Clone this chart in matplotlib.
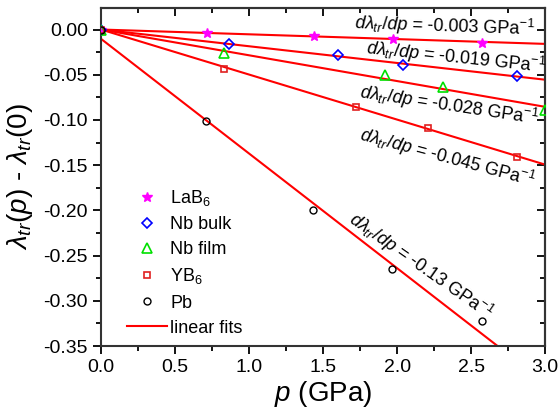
import numpy as np
import matplotlib
matplotlib.use('Agg')
import matplotlib.pyplot as plt
from matplotlib.ticker import MultipleLocator

plt.rcParams['font.family'] = ['Liberation Sans', 'DejaVu Sans']
plt.rcParams['mathtext.fontset'] = 'custom'
plt.rcParams['mathtext.rm'] = 'Liberation Sans'
plt.rcParams['mathtext.it'] = 'Liberation Sans:italic'
plt.rcParams['axes.unicode_minus'] = False

# measured points (pressure in GPa, change of lambda_tr)
p_lab6 = [0.0, 0.716, 1.44, 1.97, 2.57]
d_lab6 = [0.0, -0.0037, -0.0074, -0.011, -0.0144]

p_nbbulk = [0.0, 0.867, 1.60, 2.04, 2.81]
d_nbbulk = [0.0, -0.016, -0.0285, -0.0395, -0.0517]

p_nbfilm = [0.0, 0.833, 1.92, 2.31, 3.0]
d_nbfilm = [0.0, -0.0258, -0.0498, -0.0639, -0.0886]

p_yb6 = [0.0, 0.833, 1.72, 2.21, 2.81]
d_yb6 = [0.0, -0.0435, -0.0856, -0.1085, -0.141]

p_pb = [0.0, 0.709, 1.435, 1.964, 2.576]
d_pb = [0.0, -0.1008, -0.200, -0.2647, -0.3223]

# linear fits as drawn: slope, intercept
fit_slopes = [-0.0053, -0.0185, -0.0285, -0.0498, -0.1268]
fit_intercepts = [0.0, 0.0, 0.0, 0.0, -0.0103]

fit_labels = ['-0.003', '-0.019', '-0.028', '-0.045', '-0.13']
label_x = [2.32, 2.40, 2.35, 2.34, 2.16]
label_y = [0.0035, -0.031, -0.084, -0.142, -0.261]
label_rot = [-2, -6, -8.5, -15, -35]

fig = plt.figure(figsize=(5.58, 4.11), dpi=100)
ax = fig.add_axes([0.181, 0.158, 0.796, 0.823])

pp = np.array([0.0, 3.0])
for k, (s, b) in enumerate(zip(fit_slopes, fit_intercepts)):
    ax.plot(pp, b + s * pp, color='#ff0000', lw=1.5, zorder=2,
            label='linear fits' if k == 4 else None)

ax.plot(p_lab6, d_lab6, ls='none', marker='*', ms=7, color='#ff00ff', label='LaB$_6$', zorder=3)
ax.plot(p_nbbulk, d_nbbulk, ls='none', marker='D', ms=5.5, mfc='none', mec='#0000ff', mew=1.2,
        label='Nb bulk', zorder=3)
ax.plot(p_nbfilm, d_nbfilm, ls='none', marker='^', ms=6.5, mfc='none', mec='#00e000', mew=1.2,
        label='Nb film', zorder=3)
ax.plot(p_yb6, d_yb6, ls='none', marker='s', ms=5, mfc='none', mec='#e02020', mew=1.2,
        label='YB$_6$', zorder=3)
ax.plot(p_pb, d_pb, ls='none', marker='o', ms=5, mfc='none', mec='black', mew=1.0,
        label='Pb', zorder=3)

for t, x, y, r in zip(fit_labels, label_x, label_y, label_rot):
    ax.text(x, y, '$d\\lambda_{tr}/dp$ = ' + t + ' GPa$^{-1}$', fontsize=13,
            rotation=r, rotation_mode='anchor', ha='center', va='center')

ax.set_xlim(0, 3.0)
ax.set_ylim(-0.35, 0.024)
ax.xaxis.set_major_locator(MultipleLocator(0.5))
ax.xaxis.set_minor_locator(MultipleLocator(0.25))
ax.yaxis.set_major_locator(MultipleLocator(0.05))
ax.yaxis.set_minor_locator(MultipleLocator(0.025))
ax.xaxis.set_major_formatter(matplotlib.ticker.FormatStrFormatter('%.1f'))
ax.yaxis.set_major_formatter(matplotlib.ticker.FormatStrFormatter('%.2f'))
ax.tick_params(which='major', direction='out', length=6, width=1.3, labelsize=14)
ax.tick_params(which='minor', direction='out', length=3.5, width=1.3)

top = ax.secondary_xaxis('top')
top.xaxis.set_major_locator(MultipleLocator(0.5))
top.xaxis.set_minor_locator(MultipleLocator(0.25))
top.tick_params(which='major', direction='in', length=6, width=1.3, labeltop=False)
top.tick_params(which='minor', direction='in', length=3.5, width=1.3)
right = ax.secondary_yaxis('right')
right.yaxis.set_major_locator(MultipleLocator(0.05))
right.yaxis.set_minor_locator(MultipleLocator(0.025))
right.tick_params(which='major', direction='in', length=6, width=1.3, labelright=False)
right.tick_params(which='minor', direction='in', length=3.5, width=1.3)

for sp in list(ax.spines.values()) + [top.spines['top'], right.spines['right']]:
    sp.set_linewidth(1.5)
    sp.set_color('#333333')

ax.set_xlabel('$p$ (GPa)', fontsize=20, labelpad=2)
ax.set_ylabel('$\\lambda_{tr}$($p$) - $\\lambda_{tr}$(0)', fontsize=20, labelpad=6)

handles, labels = ax.get_legend_handles_labels()
order = [1, 2, 3, 4, 5, 0]
ax.legend([handles[i] for i in order], [labels[i] for i in order],
          loc='upper left', bbox_to_anchor=(0.022, 0.515), frameon=False,
          fontsize=13, handlelength=2.2, handletextpad=0.2, labelspacing=0.45)

fig.savefig('out.png', dpi=100)
